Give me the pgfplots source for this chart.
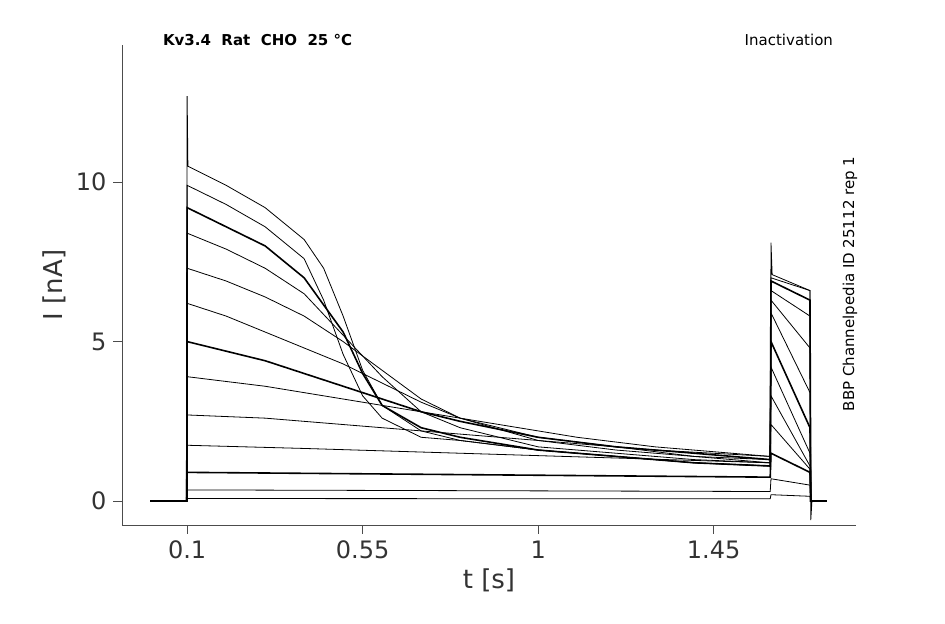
\documentclass[border=0pt]{standalone}
\usepackage{pgfplots}
\pgfplotsset{compat=1.18}
\usepackage{fontspec}
\setmainfont{DejaVu Sans}
\begin{document}
\begin{tikzpicture}[x=1pt,y=1pt]
\path[use as bounding box] (0,0) rectangle (472.5,312);
\begin{axis}[at={(61pt,49.5pt)},anchor=south west,scale only axis,width=367pt,height=240pt,
 xmin=-0.067,xmax=1.815,ymin=-0.75,ymax=14.3,
 axis x line*=bottom, axis y line*=left, axis line style={black!70},
 tick align=outside, tick style={black!70},
 xtick={0.1,0.55,1,1.45}, xticklabels={0.1,0.55,1,1.45},
 ytick={0,5,10},
 /pgf/number format/assume math mode=true,
 ticklabel style={font=\fontsize{12}{12}\selectfont, text=black!80},
 xlabel={t [s]}, ylabel={I [nA]},
 label style={font=\fontsize{13}{13}\selectfont, text=black!80},
 xlabel style={yshift=2pt}, ylabel style={yshift=-2pt},
 cycle list={{black,no markers,line width=0.8pt,solid}}, clip=false]
\addplot coordinates {(0.005,0)(0.099,0)(0.1,12.7)(0.102,10.5)(0.2,9.9)(0.3,9.2)(0.4,8.2)(0.45,7.3)(0.5,5.8)(0.55,4.1)(0.6,3.0)(0.7,2.2)(0.8,1.9)(1.0,1.6)(1.2,1.4)(1.4,1.2)(1.595,1.1)(1.597,8.1)(1.6,7.1)(1.697,6.6)(1.699,-0.6)(1.702,0)(1.74,0)};
\addplot coordinates {(0.005,0)(0.099,0)(0.1,9.9)(0.2,9.3)(0.3,8.6)(0.4,7.6)(0.45,6.3)(0.5,4.6)(0.55,3.3)(0.6,2.6)(0.7,2.0)(0.8,1.9)(1.0,1.6)(1.2,1.4)(1.4,1.2)(1.595,1.1)(1.597,7.0)(1.697,6.6)(1.699,0)(1.74,0)};
\addplot coordinates {(0.005,0)(0.099,0)(0.1,9.2)(0.2,8.6)(0.3,8.0)(0.4,7.0)(0.5,5.3)(0.55,4.0)(0.6,3.0)(0.7,2.3)(0.8,2.0)(1.0,1.6)(1.2,1.4)(1.4,1.2)(1.595,1.1)(1.597,6.9)(1.697,6.3)(1.699,0)(1.74,0)};
\addplot coordinates {(0.005,0)(0.099,0)(0.1,8.4)(0.2,7.9)(0.3,7.3)(0.4,6.5)(0.5,5.2)(0.6,3.9)(0.7,2.8)(0.8,2.3)(1.0,1.7)(1.2,1.5)(1.4,1.3)(1.595,1.2)(1.597,6.6)(1.697,5.8)(1.699,0)(1.74,0)};
\addplot coordinates {(0.005,0)(0.099,0)(0.1,7.3)(0.2,6.9)(0.3,6.4)(0.4,5.8)(0.5,5.0)(0.6,4.1)(0.7,3.2)(0.8,2.6)(1.0,1.9)(1.2,1.6)(1.4,1.4)(1.595,1.2)(1.597,6.3)(1.697,4.8)(1.699,0)(1.74,0)};
\addplot coordinates {(0.005,0)(0.099,0)(0.1,6.2)(0.2,5.8)(0.3,5.3)(0.4,4.8)(0.5,4.3)(0.6,3.7)(0.7,3.1)(0.8,2.6)(1.0,2.0)(1.2,1.7)(1.4,1.4)(1.595,1.3)(1.597,5.9)(1.697,3.4)(1.699,0)(1.74,0)};
\addplot coordinates {(0.005,0)(0.099,0)(0.1,5.0)(0.2,4.7)(0.3,4.4)(0.4,4.0)(0.5,3.6)(0.6,3.2)(0.7,2.8)(0.8,2.5)(1.0,2.0)(1.2,1.7)(1.4,1.5)(1.595,1.3)(1.597,5.0)(1.697,2.3)(1.699,0)(1.74,0)};
\addplot coordinates {(0.005,0)(0.099,0)(0.1,3.9)(0.3,3.6)(0.5,3.2)(0.7,2.8)(0.9,2.4)(1.1,2.0)(1.3,1.7)(1.595,1.4)(1.597,4.2)(1.697,1.5)(1.699,0)(1.74,0)};
\addplot coordinates {(0.005,0)(0.099,0)(0.1,2.7)(0.3,2.6)(0.5,2.4)(0.7,2.2)(0.9,2.0)(1.1,1.8)(1.3,1.6)(1.595,1.4)(1.597,3.3)(1.697,1.1)(1.699,0)(1.74,0)};
\addplot coordinates {(0.005,0)(0.099,0)(0.1,1.75)(0.4,1.65)(0.8,1.5)(1.2,1.35)(1.595,1.2)(1.597,2.4)(1.697,1.0)(1.699,0)(1.74,0)};
\addplot coordinates {(0.005,0)(0.099,0)(0.1,0.9)(0.6,0.85)(1.1,0.8)(1.595,0.75)(1.597,1.5)(1.697,0.9)(1.699,0)(1.74,0)};
\addplot coordinates {(0.005,0)(0.099,0)(0.1,0.35)(1.595,0.3)(1.597,0.7)(1.697,0.5)(1.699,0)(1.74,0)};
\addplot coordinates {(0.005,0)(0.099,0)(0.1,0.08)(1.595,0.07)(1.597,0.2)(1.697,0.15)(1.699,0)(1.74,0)};
\end{axis}
\node[anchor=west,font=\fontsize{7.5}{8}\selectfont\bfseries] at (78,292) {Kv3.4\ \ Rat\ \ CHO\ \ 25 °C};
\node[anchor=east,font=\fontsize{7.5}{8}\selectfont] at (420,292) {Inactivation};
\node[rotate=90,font=\fontsize{7.5}{8}\selectfont] at (425,170) {BBP Channelpedia ID 25112 rep 1};
\end{tikzpicture}
\end{document}
